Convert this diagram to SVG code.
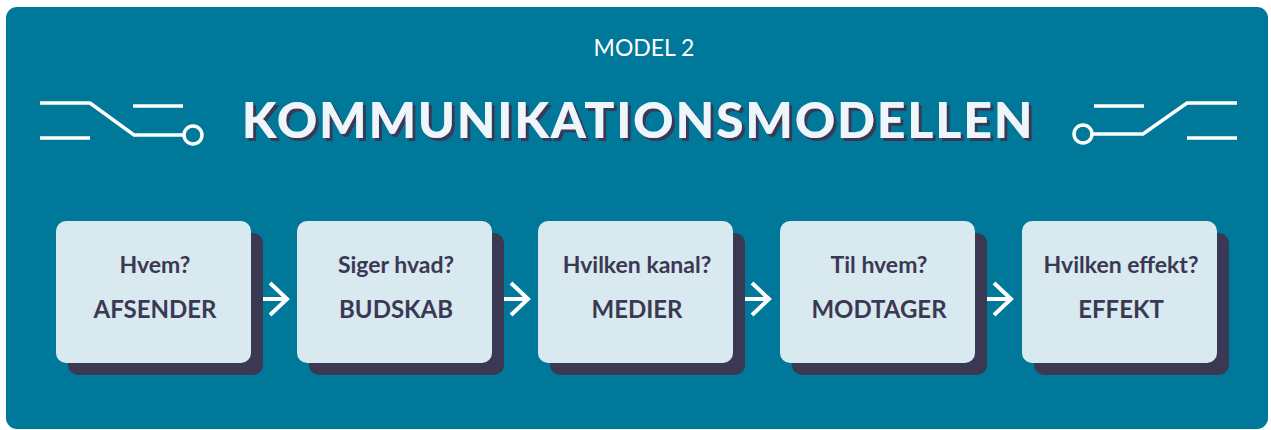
<svg xmlns="http://www.w3.org/2000/svg" width="1271" height="430" viewBox="0 0 1271 430">
<defs>
<style>
.panel{fill:#007899}
.ico{fill:none;stroke:#ffffff;stroke-width:3.5}
.shadow{fill:#3b3854}
.box{fill:#d8e9ef}
.q{font-family:Lato,"Liberation Sans",sans-serif;font-weight:700;font-size:23px;fill:#3b3854;text-anchor:middle}
.a{font-family:Lato,"Liberation Sans",sans-serif;font-weight:700;font-size:24px;fill:#3b3854;text-anchor:middle}
.conn{fill:none;stroke:#ffffff;stroke-width:4}
.title{font-family:Lato,"Liberation Sans",sans-serif;font-weight:900;font-size:50px;letter-spacing:1.8px;text-anchor:middle}
</style>
<filter id="ts" x="-5%" y="-20%" width="110%" height="140%">
<feDropShadow dx="3" dy="3" stdDeviation="0" flood-color="#3b3854" flood-opacity="1"/>
</filter>
</defs>
<rect width="1271" height="430" fill="#ffffff"/>
<rect class="panel" x="6" y="7" width="1262" height="422" rx="11"/>
<text x="644" y="56" font-family="Lato,'Liberation Sans',sans-serif" font-size="23" fill="#ffffff" text-anchor="middle">MODEL 2</text>
<g id="title">
<text class="title" x="638" y="138" fill="#eef5fb" filter="url(#ts)">KOMMUNIKATIONSMODELLEN</text>
</g>
<g id="icon-left">
<polyline class="ico" points="40,103 90,103 134,135 184,135"/>
<line class="ico" x1="133" y1="106" x2="183" y2="106"/>
<line class="ico" x1="40" y1="138" x2="90" y2="138"/>
<circle class="ico" cx="193" cy="135" r="9"/>
</g>
<g id="icon-right">
<polyline class="ico" points="1237,103 1187,103 1143,134 1092,134"/>
<line class="ico" x1="1094" y1="106" x2="1144" y2="106"/>
<line class="ico" x1="1187" y1="138" x2="1237" y2="138"/>
<circle class="ico" cx="1083" cy="134" r="9"/>
</g>
<g id="connectors">
<path class="conn" d="M251,299 H287 M270,283 L287,299 L270,315"/>
<path class="conn" d="M492,299 H528 M511,283 L528,299 L511,315"/>
<path class="conn" d="M733,299 H769 M752,283 L769,299 L752,315"/>
<path class="conn" d="M975,299 H1011 M994,283 L1011,299 L994,315"/>
</g>
<g id="node-afsender">
<rect class="shadow" x="68" y="233" width="195" height="142" rx="10"/>
<rect class="box" x="56" y="221" width="195" height="142" rx="10"/>
<text class="q" x="155" y="273">Hvem?</text>
<text class="a" x="155" y="318">AFSENDER</text>
</g>
<g id="node-budskab">
<rect class="shadow" x="309" y="233" width="195" height="142" rx="10"/>
<rect class="box" x="297" y="221" width="195" height="142" rx="10"/>
<text class="q" x="396" y="273">Siger hvad?</text>
<text class="a" x="396" y="318">BUDSKAB</text>
</g>
<g id="node-medier">
<rect class="shadow" x="550" y="233" width="195" height="142" rx="10"/>
<rect class="box" x="538" y="221" width="195" height="142" rx="10"/>
<text class="q" x="637" y="273">Hvilken kanal?</text>
<text class="a" x="637" y="318">MEDIER</text>
</g>
<g id="node-modtager">
<rect class="shadow" x="792" y="233" width="195" height="142" rx="10"/>
<rect class="box" x="780" y="221" width="195" height="142" rx="10"/>
<text class="q" x="879" y="273">Til hvem?</text>
<text class="a" x="879" y="318">MODTAGER</text>
</g>
<g id="node-effekt">
<rect class="shadow" x="1034" y="233" width="195" height="142" rx="10"/>
<rect class="box" x="1022" y="221" width="195" height="142" rx="10"/>
<text class="q" x="1121" y="273">Hvilken effekt?</text>
<text class="a" x="1121" y="318">EFFEKT</text>
</g>
</svg>
